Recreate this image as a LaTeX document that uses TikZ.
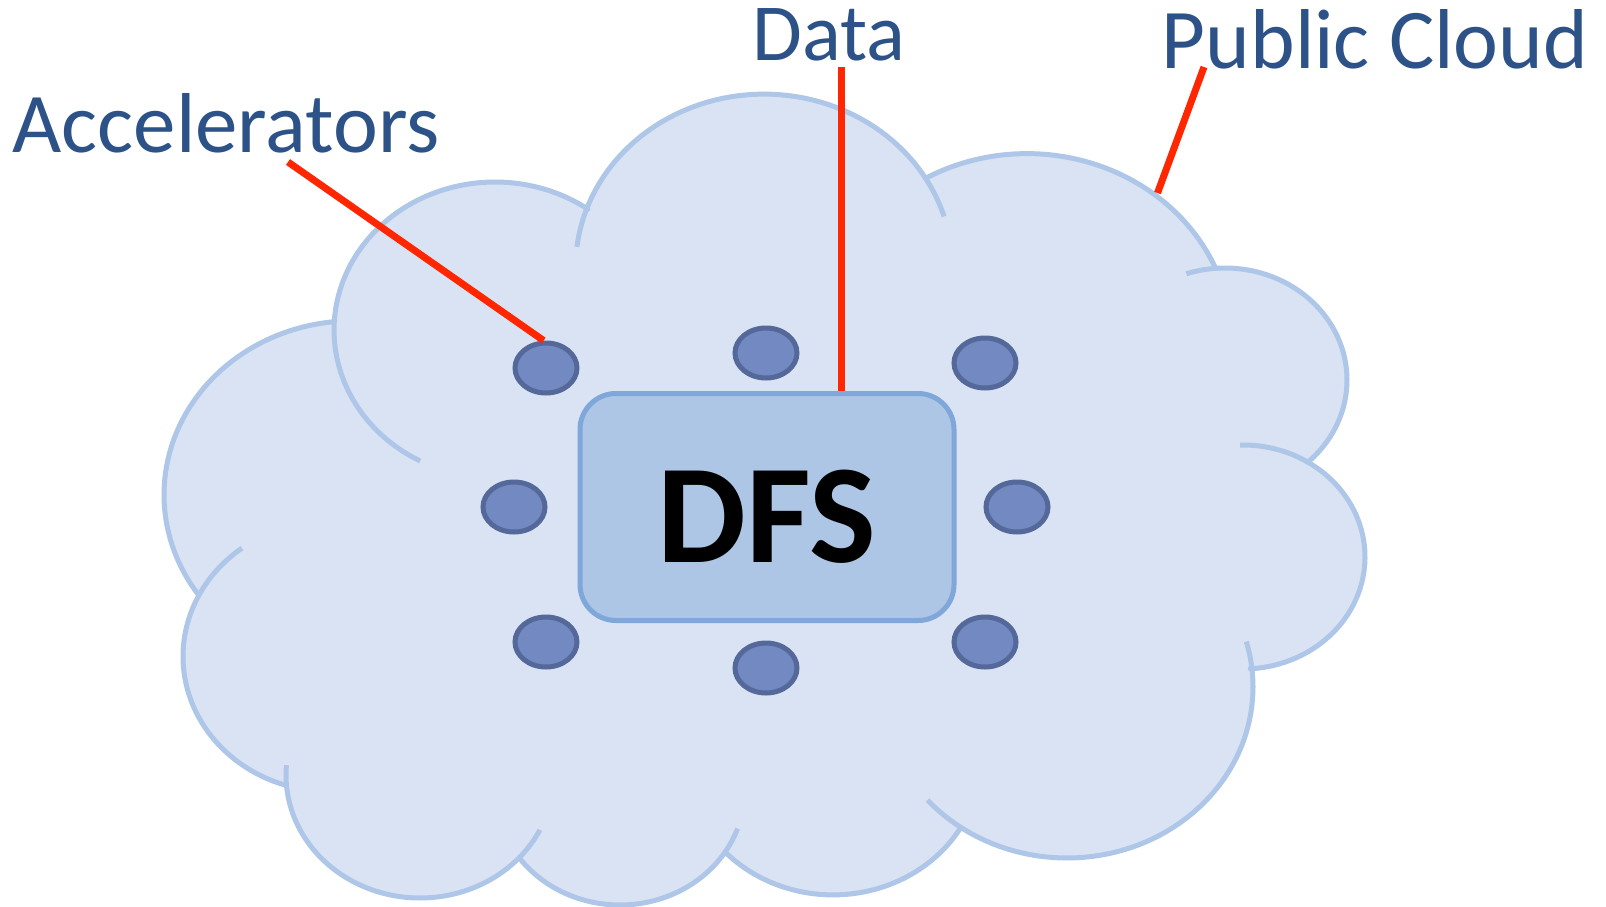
\documentclass[tikz,border=0pt]{standalone}
\usepackage{fontspec}
\setmainfont{Carlito}
\usetikzlibrary{shapes.geometric}
\definecolor{cloudfill}{HTML}{DAE3F3}
\definecolor{cloudline}{HTML}{AEC6E7}
\definecolor{boxfill}{HTML}{AEC6E6}
\definecolor{boxline}{HTML}{7FA7DA}
\definecolor{accfill}{HTML}{7289C1}
\definecolor{accline}{HTML}{54689A}
\definecolor{callred}{HTML}{FF2600}
\definecolor{tagblue}{HTML}{2C5288}
\begin{document}
\begin{tikzpicture}[x=1pt,y=-1pt,
  cloudshape/.style={fill=cloudfill, draw=cloudline, line width=5pt, line join=round},
  cloudfold/.style={draw=cloudline, line width=5pt},
  accnode/.style={ellipse, draw=accline, fill=accfill, line width=5pt,
    minimum width=62pt, minimum height=50pt, inner sep=0pt},
  storebox/.style={rectangle, rounded corners=36pt, draw=boxline, fill=boxfill,
    line width=5pt, minimum width=374pt, minimum height=227pt, inner sep=0pt,
    text height=111pt, text depth=0pt, font=\fontsize{141}{150}\selectfont\bfseries},
  callout/.style={draw=callred, line width=7pt},
  tag/.style={text=tagblue, font=\fontsize{85}{100}\selectfont, inner sep=0pt, anchor=base},
]
\useasboundingbox (0,0) rectangle (1606,907);
\fill[white] (0,0) rectangle (1606,907);

% cloud outline: eleven elliptic lobes, clockwise from the left
\draw[cloudshape, samples=60]
  plot[domain=144.7:264.5] ({353+189*cos(\x)},{494.7+173.9*sin(\x)})
  -- plot[domain=183.1:305.2] ({495+161*cos(\x)},{330+148*sin(\x)})
  -- plot[domain=200:329.3] ({764+188.4*cos(\x)},{267.4+173.3*sin(\x)})
  -- plot[domain=240.3:337] ({1027+205*cos(\x)},{342.2+188.6*sin(\x)})
  -- plot[domain=266.2:407.4] ({1225+122*cos(\x)},{380+112*sin(\x)})
  -- plot[domain=301.7:446.7] ({1243+122*cos(\x)},{557+112*sin(\x)})
  -- plot[domain=353.2:484.8] ({1067+186*cos(\x)},{687+171*sin(\x)})
  -- plot[domain=31.6:136.8] ({833+148*cos(\x)},{758.9+136*sin(\x)})
  -- plot[domain=32.6:143.9] ({620+124.7*cos(\x)},{790.3+114.7*sin(\x)})
  -- plot[domain=42.4:175.4] ({420+134*cos(\x)},{775+123*sin(\x)})
  -- plot[domain=107.8:207] ({330+147*cos(\x)},{656.4+135.2*sin(\x)})
  -- cycle;

% inner folds where the lobes meet
\begin{scope}[cloudfold, samples=20]
  \draw plot[domain=117.7:183.1] ({495+161*cos(\x)},{330+148*sin(\x)});
  \draw plot[domain=186.8:200] ({764+188.4*cos(\x)},{267.4+173.3*sin(\x)});
  \draw plot[domain=329.3:342.9] ({764+188.4*cos(\x)},{267.4+173.3*sin(\x)});
  \draw plot[domain=251.5:266.2] ({1225+122*cos(\x)},{380+112*sin(\x)});
  \draw plot[domain=268.6:301.7] ({1243+122*cos(\x)},{557+112*sin(\x)});
  \draw plot[domain=344.6:353.2] ({1067+186*cos(\x)},{687+171*sin(\x)});
  \draw plot[domain=124.8:138.6] ({1067+186*cos(\x)},{687+171*sin(\x)});
  \draw plot[domain=19.5:32.6] ({620+124.7*cos(\x)},{790.3+114.7*sin(\x)});
  \draw plot[domain=26.5:42.4] ({420+134*cos(\x)},{775+123*sin(\x)});
  \draw plot[domain=175.4:184.6] ({420+134*cos(\x)},{775+123*sin(\x)});
  \draw plot[domain=207:233.2] ({330+147*cos(\x)},{656.4+135.2*sin(\x)});
\end{scope}

% distributed file system in the middle
\node[storebox] (dfs) at (767,507) {DFS};

% accelerators around it
\node[accnode] (a1) at (546,368) {};
\node[accnode] (a2) at (766,353) {};
\node[accnode] (a3) at (985,363) {};
\node[accnode] (a4) at (514,507) {};
\node[accnode] (a5) at (1017,507) {};
\node[accnode] (a6) at (546,642) {};
\node[accnode] (a7) at (766,668) {};
\node[accnode] (a8) at (985,642) {};

% labels
\node[tag] (acclabel) at (226,152) {Accelerators};
\node[tag, font=\fontsize{81}{96}\selectfont] (datalabel) at (829,61) {Data};
\node[tag] (cloudlabel) at (1375,69) {Public Cloud};

% callout lines
\coordinate (accTail) at (288,162);
\coordinate (dataTail) at (841,67);
\coordinate (cloudTail) at (1204,67);
\coordinate (cloudEdge) at (1157.5,193);
\draw[callout] (accTail) -- (a1.95);
\draw[callout] (dataTail) -- (dataTail |- dfs.north);
\draw[callout] (cloudTail) -- (cloudEdge);
\end{tikzpicture}
\end{document}
